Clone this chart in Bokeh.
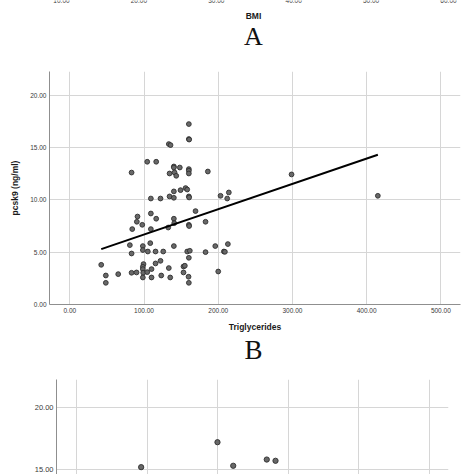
from bokeh.plotting import figure
from bokeh.models import Label, FixedTicker, PrintfTickFormatter, Range1d
from bokeh.layouts import column
from bokeh.core.properties import value
from bokeh.embed import file_html
from bokeh.resources import INLINE

# ---------------- data ----------------
bmi_ticks = [10, 20, 30, 40, 50, 60]
bmi_tick_labels = ["10.00", "20.00", "30.00", "40.00", "50.00", "60.00"]

trig_ticks = [0, 100, 200, 300, 400, 500]
pcsk9_ticks = [0, 5, 10, 15, 20]

trig = [83.2, 104.3, 116.4, 133.4, 135.7, 160.4, 160.4, 160.8, 140.2, 140.2,
        148.2, 134.4, 141.1, 143.4, 160.4, 160.4, 160.4, 186.0, 156.0, 158.2,
        149.2, 140.2, 134.4, 140.2, 109.2, 122.2, 160.4, 160.8, 203.1, 214.3,
        212.1, 298.8, 415.1,
        91.2, 109.2, 90.3, 97.6, 116.4, 140.2, 140.7, 169.4, 160.4, 160.8,
        182.9, 84.1, 109.2, 132.6, 80.9, 83.2, 98.4, 98.4, 108.4, 105.1,
        115.5, 125.9, 140.2, 158.2, 161.7, 160.4, 182.9, 196.0, 213.0, 207.6,
        209.0, 200.0, 42.3, 48.5, 48.5, 65.2, 83.2, 89.9, 99.3, 98.4,
        98.4, 98.9, 98.4, 104.3, 110.1, 115.5, 122.2, 110.1, 123.2, 133.4,
        135.3, 153.2, 155.0, 153.2, 160.0, 160.4]
pcsk9 = [12.60, 13.63, 13.63, 15.32, 15.22, 17.23, 15.80, 15.75, 13.18, 13.08,
         13.08, 12.51, 12.61, 12.29, 12.93, 12.77, 12.51, 12.70, 11.12, 10.98,
         10.92, 10.80, 10.32, 10.19, 10.12, 10.12, 10.32, 10.22, 10.38, 10.70,
         10.12, 12.42, 10.38,
         8.40, 8.69, 7.90, 7.61, 8.19, 8.19, 7.77, 8.92, 7.61, 7.49,
         7.90, 7.20, 7.20, 7.35, 5.67, 4.87, 5.58, 5.20, 5.86, 5.06,
         5.06, 5.06, 5.58, 5.06, 5.13, 4.46, 5.00, 5.58, 5.77, 5.06,
         5.03, 3.15, 3.79, 2.77, 2.07, 2.90, 3.03, 3.06, 3.86, 3.60,
         3.38, 3.03, 2.58, 3.09, 3.38, 3.92, 4.17, 2.58, 2.77, 3.48,
         2.58, 3.63, 3.70, 3.06, 2.65, 2.07]

fit_x = [42.3, 415.1]
fit_y = [5.29, 14.30]

c_xticks = [0, 100, 200, 300, 400, 500]
c_x = [91.6, 199.7, 222.0, 269.5, 281.9]
c_y = [15.19, 17.19, 15.30, 15.80, 15.70]

# ---------------- styles ----------------
SANS = "Liberation Sans"
SERIF = "Liberation Serif"
GRID = "#d6d6d6"
AXIS = "#8f8f8f"
TICK_TXT = "#3a3a3a"
TITLE_TXT = "#1a1a1a"
PT_FILL = "#686868"
PT_LINE = "#2e2e2e"
W = 474


def clean(p):
    p.outline_line_color = None
    p.background_fill_color = "white"
    p.border_fill_color = "white"
    p.frame_align = False


def style_axis(ax, size):
    ax.axis_line_color = AXIS
    ax.axis_line_width = 1
    ax.major_tick_out = 0
    ax.major_tick_in = 0
    ax.minor_tick_out = 0
    ax.minor_tick_in = 0
    ax.major_label_standoff = 3
    ax.major_label_text_font = SANS
    ax.major_label_text_font_size = size
    ax.major_label_text_color = TICK_TXT
    ax.formatter = PrintfTickFormatter(format="%.2f")
    ax.axis_label_text_font = SANS
    ax.axis_label_text_font_style = "bold"
    ax.axis_label_text_font_size = "8.5px"
    ax.axis_label_text_color = TITLE_TXT


# ---------------- panel A remnant (BMI axis, label A) ----------------
pA = figure(width=W, height=56, x_range=Range1d(2.12, 63.36), y_range=Range1d(0, 56),
            output_backend="svg", toolbar_location=None,
            x_axis_location=None, y_axis_location=None, min_border=0)
clean(pA)
pA.grid.visible = False
pA.text(x=bmi_ticks, y=[56] * len(bmi_ticks), text=bmi_tick_labels,
        text_align="center", text_baseline="middle",
        text_font=value(SANS), text_font_size="6.5px", text_color=TICK_TXT)
pA.add_layout(Label(x=253, y=40.3, x_units="screen", y_units="screen", text="BMI",
                    text_align="center", text_baseline="middle", text_font=SANS,
                    text_font_style="bold", text_font_size="8.5px", text_color=TITLE_TXT))
pA.add_layout(Label(x=253, y=20, x_units="screen", y_units="screen", text="A",
                    text_align="center", text_baseline="middle", text_font=SERIF,
                    text_font_size="26px", text_color="#111111"))

# ---------------- panel B ----------------
pB = figure(width=W, height=278, x_range=Range1d(-27.4, 526.5), y_range=Range1d(0, 22.25),
            output_backend="svg", toolbar_location=None,
            min_border_left=49, min_border_right=14, min_border_top=15, min_border_bottom=30)
clean(pB)
pB.xaxis.ticker = FixedTicker(ticks=trig_ticks)
pB.yaxis.ticker = FixedTicker(ticks=pcsk9_ticks)
style_axis(pB.xaxis[0], "6.5px")
style_axis(pB.yaxis[0], "6.5px")
pB.xaxis.axis_label = "Triglycerides"
pB.yaxis.axis_label = "pcsk9 (ng/ml)"
pB.xaxis.axis_label_standoff = 6
pB.yaxis.axis_label_standoff = 7
pB.grid.grid_line_color = GRID
pB.grid.grid_line_width = 1
pB.scatter(trig, pcsk9, size=4.8, fill_color=PT_FILL, line_color=PT_LINE, line_width=0.9)
pB.line(fit_x, fit_y, line_color="black", line_width=2)

# ---------------- label B ----------------
pBl = figure(width=W, height=32, x_range=Range1d(0, 1), y_range=Range1d(0, 1),
             output_backend="svg", toolbar_location=None,
             x_axis_location=None, y_axis_location=None, min_border=0)
clean(pBl)
pBl.grid.visible = False
pBl.add_layout(Label(x=253, y=17, x_units="screen", y_units="screen", text="B",
                     text_align="center", text_baseline="middle", text_font=SERIF,
                     text_font_size="27px", text_color="#111111"))

# ---------------- panel C (top part) ----------------
pC = figure(width=W, height=108, x_range=Range1d(-28.3, 526.9), y_range=Range1d(14.60, 22.22),
            output_backend="svg", toolbar_location=None, x_axis_location=None,
            min_border_left=56, min_border_right=26, min_border_top=13, min_border_bottom=0)
clean(pC)
pC.yaxis.ticker = FixedTicker(ticks=pcsk9_ticks)
style_axis(pC.yaxis[0], "7.5px")
pC.xgrid.ticker = FixedTicker(ticks=c_xticks)
pC.grid.grid_line_color = GRID
pC.grid.grid_line_width = 1
pC.scatter(c_x, c_y, size=5.3, fill_color=PT_FILL, line_color=PT_LINE, line_width=0.9)

layout = column(pA, pB, pBl, pC, spacing=0)
open("out.html", "w").write(file_html(layout, INLINE))
